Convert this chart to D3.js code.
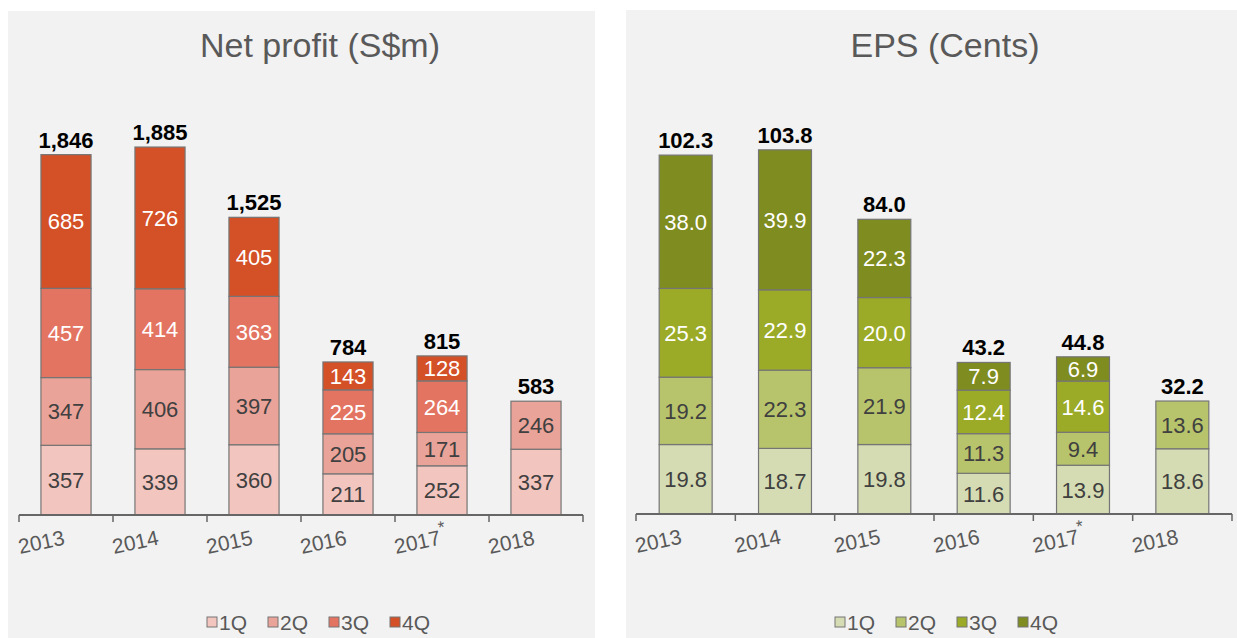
<!DOCTYPE html>
<html>
<head>
<meta charset="utf-8">
<script src="https://cdn.jsdelivr.net/npm/d3@7"></script>
<style>
  body { margin: 0; background: #fff; }
  svg { display: block; font-family: "Liberation Sans", Arial, sans-serif; }
</style>
</head>
<body>
<svg id="chart" width="1237" height="638"></svg>
<script>
// data
const years = ['2013', '2014', '2015', '2016', '2017', '2018'];
const quarters = ['1Q', '2Q', '3Q', '4Q'];

const npQ1 = [357, 339, 360, 211, 252, 337];
const npQ2 = [347, 406, 397, 205, 171, 246];
const npQ3 = [457, 414, 363, 225, 264, 0];
const npQ4 = [685, 726, 405, 143, 128, 0];

const epsQ1 = [19.8, 18.7, 19.8, 11.6, 13.9, 18.6];
const epsQ2 = [19.2, 22.3, 21.9, 11.3, 9.4, 13.6];
const epsQ3 = [25.3, 22.9, 20.0, 12.4, 14.6, 0];
const epsQ4 = [38.0, 39.9, 22.3, 7.9, 6.9, 0];

const svg = d3.select('#chart');

const panels = [
  {
    title: 'Net profit (S$m)', titleX: 320,
    box: [8, 11, 587, 627],
    xRange: [19, 583], yBase: 515, yMax: 2000, yTop: 124.6,
    series: [npQ1, npQ2, npQ3, npQ4],
    colors: ['#f3c5bf', '#eaa398', '#e47462', '#d45027'],
    textColors: ['#404040', '#404040', '#fff', '#fff'],
    fmt: d3.format(','), totalFmt: d3.format(','),
    legendX: 323
  },
  {
    title: 'EPS (Cents)', titleX: 945,
    box: [626, 10, 611, 628],
    xRange: [636, 1232], yBase: 514, yMax: 120, yTop: 93,
    series: [epsQ1, epsQ2, epsQ3, epsQ4],
    colors: ['#d5dcb3', '#b8c46c', '#9bab27', '#7f8c1f'],
    textColors: ['#404040', '#404040', '#fff', '#fff'],
    fmt: d3.format('.1f'), totalFmt: d3.format('.1f'),
    legendX: 951
  }
];

panels.forEach((p) => {
  const g = svg.append('g');

  g.append('rect')
    .attr('x', p.box[0]).attr('y', p.box[1])
    .attr('width', p.box[2]).attr('height', p.box[3])
    .attr('fill', '#f2f2f2');

  g.append('text')
    .attr('x', p.titleX).attr('y', 57)
    .attr('text-anchor', 'middle')
    .attr('fill', '#595959')
    .style('font-size', '34px')
    .text(p.title);

  const x = d3.scaleBand()
    .domain(years)
    .range(p.xRange)
    .paddingInner(0.467)
    .paddingOuter(0.2335);

  const y = d3.scaleLinear()
    .domain([0, p.yMax])
    .range([p.yBase, p.yTop]);

  const rows = years.map((yr, i) => {
    const r = {year: yr};
    quarters.forEach((q, k) => { r[q] = p.series[k][i]; });
    return r;
  });

  const stacked = d3.stack().keys(quarters)(rows);

  // bars
  stacked.forEach((layer, k) => {
    const lg = g.append('g');
    lg.selectAll('rect')
      .data(layer.filter(d => d[1] - d[0] > 0))
      .enter()
      .append('rect')
      .attr('x', d => x(d.data.year))
      .attr('width', x.bandwidth())
      .attr('y', d => y(d[1]))
      .attr('height', d => y(d[0]) - y(d[1]))
      .attr('fill', p.colors[k])
      .attr('stroke', '#757575')
      .attr('stroke-width', 1.2);

    lg.selectAll('text')
      .data(layer.filter(d => d[1] - d[0] > 0))
      .enter()
      .append('text')
      .attr('x', d => x(d.data.year) + x.bandwidth() / 2)
      .attr('y', d => (y(d[0]) + y(d[1])) / 2)
      .attr('dy', '0.36em')
      .attr('text-anchor', 'middle')
      .attr('fill', p.textColors[k])
      .style('font-size', '22px')
      .text(d => p.fmt(d[1] - d[0]));
  });

  // totals
  const top = stacked[stacked.length - 1];
  g.selectAll('.total')
    .data(top)
    .enter()
    .append('text')
    .attr('class', 'total')
    .attr('x', d => x(d.data.year) + x.bandwidth() / 2)
    .attr('y', d => y(d[1]) - 7)
    .attr('text-anchor', 'middle')
    .attr('fill', '#000')
    .style('font-size', '22px')
    .style('font-weight', 'bold')
    .text(d => p.totalFmt(d[1]));

  // axis
  const step = x.step();
  const x0 = p.xRange[0];
  g.append('line')
    .attr('x1', p.xRange[0]).attr('x2', p.xRange[1])
    .attr('y1', p.yBase).attr('y2', p.yBase)
    .attr('stroke', '#666').attr('stroke-width', 2);

  g.selectAll('.tick')
    .data(d3.range(years.length + 1))
    .enter()
    .append('line')
    .attr('x1', i => x0 + i * step).attr('x2', i => x0 + i * step)
    .attr('y1', p.yBase).attr('y2', p.yBase + 7)
    .attr('stroke', '#666').attr('stroke-width', 1.5);

  const labels = g.selectAll('.xlab')
    .data(years)
    .enter()
    .append('text')
    .attr('class', 'xlab')
    .attr('transform', (d, i) => `translate(${x0 + i * step + 1},${p.yBase + 39}) rotate(-12)`)
    .attr('fill', '#595959')
    .style('font-size', '21px');

  labels.append('tspan').text(d => d);
  labels.filter(d => d === '2017')
    .append('tspan')
    .attr('dy', -11)
    .style('font-size', '17px')
    .text('*');

  // legend
  const itemW = 61;
  const lx0 = p.legendX - (itemW * quarters.length - 12) / 2;
  const leg = g.selectAll('.leg')
    .data(quarters)
    .enter()
    .append('g')
    .attr('transform', (d, i) => `translate(${lx0 + i * itemW},622)`);

  leg.append('rect')
    .attr('x', 0).attr('y', -5)
    .attr('width', 10).attr('height', 10)
    .attr('fill', (d, i) => p.colors[i])
    .attr('stroke', '#757575');

  leg.append('text')
    .attr('x', 12).attr('y', 0)
    .attr('dy', '0.36em')
    .attr('fill', '#595959')
    .style('font-size', '21px')
    .text(d => d);
});
</script>
</body>
</html>
